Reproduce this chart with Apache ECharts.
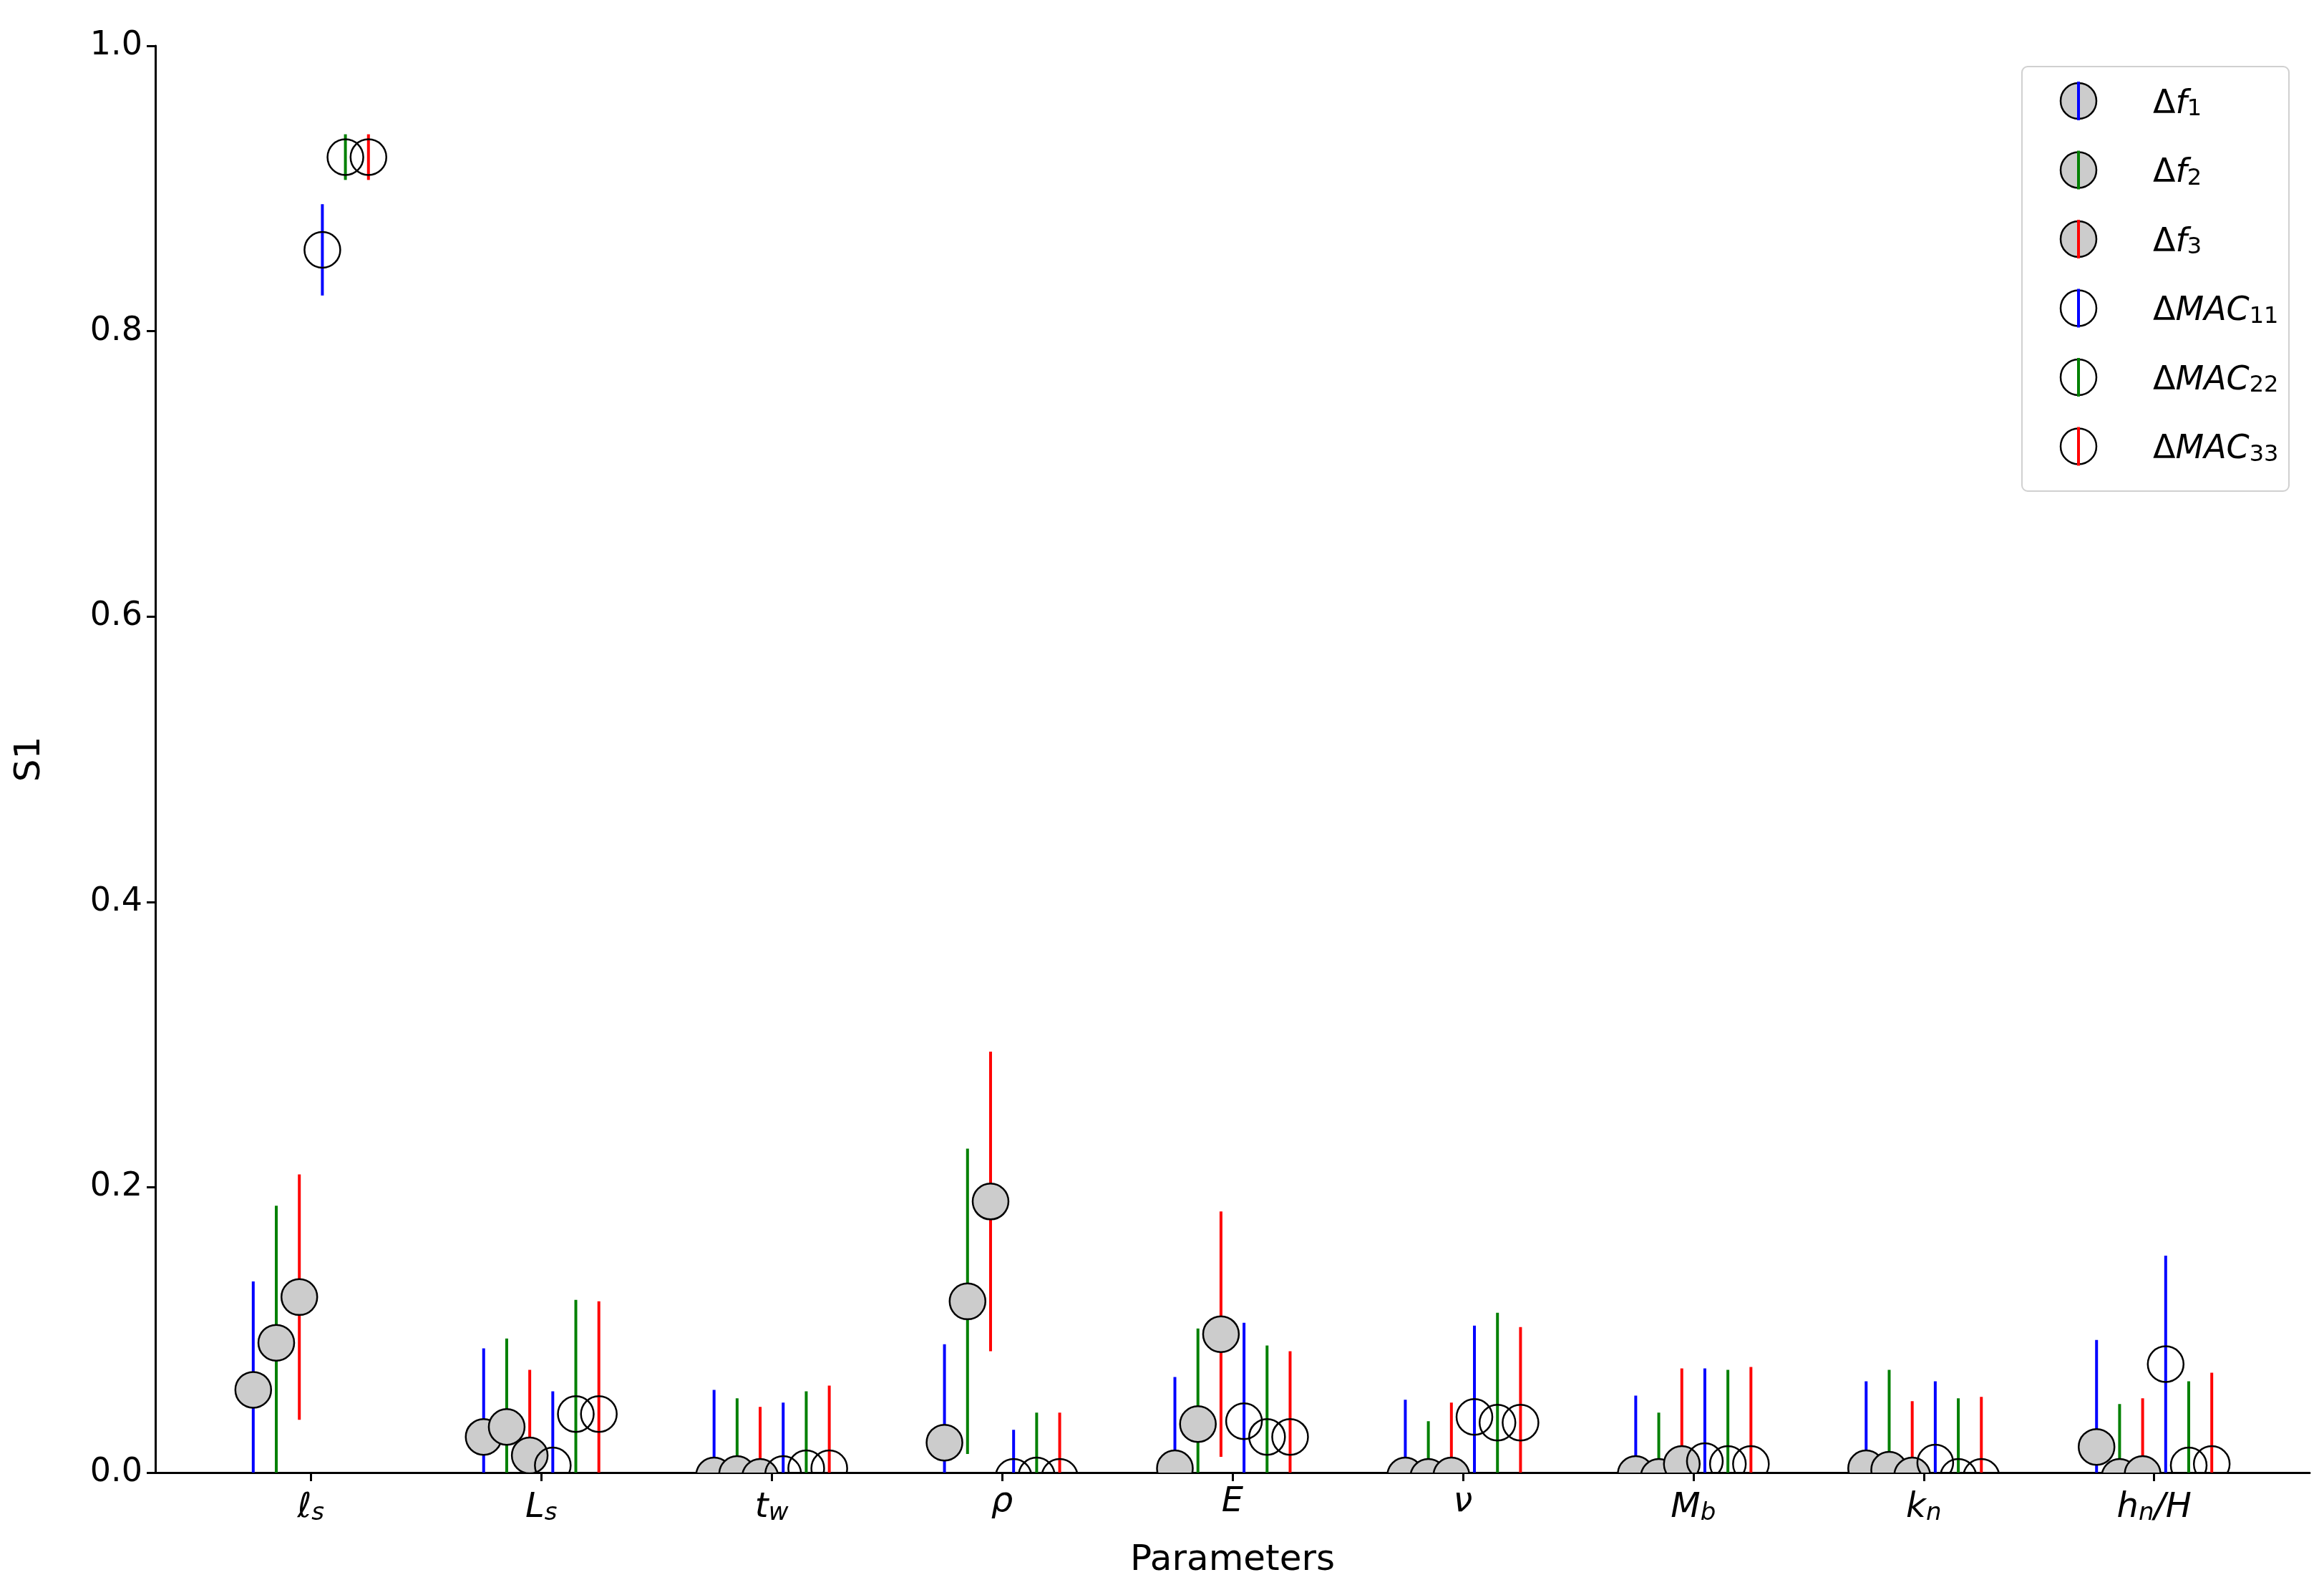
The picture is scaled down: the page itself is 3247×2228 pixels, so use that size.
<!DOCTYPE html>
<html>
<head>
<meta charset="UTF-8">
<title>S1</title>
<style>html,body{margin:0;background:#fff}#chart{width:3247px;height:2228px}</style>
</head>
<body>
<div id="chart"></div>
<script src="https://cdn.jsdelivr.net/npm/echarts/dist/echarts.min.js"></script>
<script>
// parameter labels (rich text)
var params = ['{i|ℓ}{s|s}', '{i|L}{s|s}', '{i|t}{s|w}', '{i|ρ}', '{i|E}', '{i|ν}', '{i|M}{s|b}', '{i|k}{s|n}', '{i|h}{s|n}{i|/H}'];
var names = ['f1', 'f2', 'f3', 'MAC11', 'MAC22', 'MAC33'];
var colors = ['#0000ff', '#008000', '#ff0000', '#0000ff', '#008000', '#ff0000'];
var offsets = [-0.25, -0.15, -0.05, 0.05, 0.15, 0.25];

// S1 estimates per series (one value per parameter)
var s1_f1    = [0.058, 0.025, -0.002, 0.021, 0.003, -0.002, -0.001, 0.003, 0.018];
var s1_f2    = [0.091, 0.032, -0.001, 0.120, 0.034, -0.003, -0.003, 0.002, -0.003];
var s1_f3    = [0.123, 0.012, -0.003, 0.190, 0.097, -0.002, 0.006, -0.002, -0.001];
var s1_mac11 = [0.857, 0.005, -0.001, -0.003, 0.036, 0.039, 0.008, 0.007, 0.076];
var s1_mac22 = [0.922, 0.041, 0.003, -0.002, 0.025, 0.035, 0.006, -0.003, 0.005];
var s1_mac33 = [0.922, 0.041, 0.003, -0.003, 0.025, 0.035, 0.006, -0.003, 0.006];
// upper end of confidence bars
var up_f1    = [0.134, 0.087, 0.058, 0.090, 0.067, 0.051, 0.054, 0.064, 0.093];
var up_f2    = [0.187, 0.094, 0.052, 0.227, 0.101, 0.036, 0.042, 0.072, 0.048];
var up_f3    = [0.209, 0.072, 0.046, 0.295, 0.183, 0.049, 0.073, 0.050, 0.052];
var up_mac11 = [0.889, 0.057, 0.049, 0.030, 0.105, 0.103, 0.073, 0.064, 0.152];
var up_mac22 = [0.938, 0.121, 0.057, 0.042, 0.089, 0.112, 0.072, 0.052, 0.064];
var up_mac33 = [0.938, 0.120, 0.061, 0.042, 0.085, 0.102, 0.074, 0.053, 0.070];

var values = [s1_f1, s1_f2, s1_f3, s1_mac11, s1_mac22, s1_mac33];
var uppers = [up_f1, up_f2, up_f3, up_mac11, up_mac22, up_mac33];

var chart = echarts.init(document.getElementById('chart'));
var series = [];
values.forEach(function (vals, s) {
    var errData = vals.map(function (v, i) {
        var hi = uppers[s][i];
        return [i + offsets[s], 2 * v - hi, hi];
    });
    series.push({
        type: 'custom', name: names[s] + '_err', clip: true, z: 2,
        data: errData,
        renderItem: function (params, api) {
            var a = api.coord([api.value(0), api.value(1)]);
            var b = api.coord([api.value(0), api.value(2)]);
            return {type: 'line', shape: {x1: a[0], y1: a[1], x2: b[0], y2: b[1]},
                    style: {stroke: colors[s], lineWidth: 4}};
        }
    });
    // markers as custom circles so they are clipped (half shown) at y = 0
    series.push({
        type: 'custom', name: names[s], clip: true, z: 3,
        data: vals.map(function (v, i) { return [i + offsets[s], v]; }),
        renderItem: function (params, api) {
            var p = api.coord([api.value(0), api.value(1)]);
            return {type: 'circle', shape: {cx: p[0], cy: p[1], r: 25},
                    style: {fill: s < 3 ? '#cccccc' : 'none', stroke: '#000', lineWidth: 2.5}};
        }
    });
});

// legend drawn by hand (circle with coloured line inside)
var legendText = ['{d|Δ}{i|f}{s|1}', '{d|Δ}{i|f}{s|2}', '{d|Δ}{i|f}{s|3}', '{d|Δ}{i|MAC}{s|11}', '{d|Δ}{i|MAC}{s|22}', '{d|Δ}{i|MAC}{s|33}'];
var graphic = [{type: 'rect', shape: {x: 2825, y: 93, width: 373, height: 593, r: 8},
    style: {fill: '#fff', stroke: '#d0d0d0', lineWidth: 2}, z: 10}];
legendText.forEach(function (t, k) {
    var cy = 141 + k * 96.5;
    graphic.push({type: 'circle', shape: {cx: 2904, cy: cy, r: 25},
        style: {fill: k < 3 ? '#cccccc' : 'none', stroke: '#000', lineWidth: 2.5}, z: 11});
    graphic.push({type: 'line', shape: {x1: 2904, y1: cy - 27, x2: 2904, y2: cy + 27},
        style: {stroke: colors[k], lineWidth: 4}, z: 12});
    graphic.push({type: 'text', x: 3008, y: cy, z: 12, style: {
        text: legendText[k], verticalAlign: 'middle',
        rich: {d: {fontSize: 46, fontFamily: 'DejaVu Sans', verticalAlign: 'bottom'},
               i: {fontSize: 46, fontStyle: 'italic', fontFamily: 'DejaVu Sans', verticalAlign: 'bottom'},
               s: {fontSize: 32, fontFamily: 'DejaVu Sans', verticalAlign: 'bottom', padding: [24, 0, 0, 0]}}
    }});
});

var ticks = [0, 1, 2, 3, 4, 5, 6, 7, 8];
chart.setOption({
    animation: false,
    backgroundColor: '#fff',
    grid: {left: 217, right: 20, top: 64, bottom: 171},
    xAxis: {
        type: 'value', min: -0.675, max: 8.675,
        name: 'Parameters', nameLocation: 'middle', nameGap: 98,
        nameTextStyle: {fontSize: 50, fontFamily: 'DejaVu Sans', color: '#000'},
        splitLine: {show: false},
        axisLine: {onZero: false, lineStyle: {color: '#000', width: 3}},
        axisTick: {customValues: ticks, length: 12, lineStyle: {color: '#000', width: 3}},
        axisLabel: {
            customValues: ticks, margin: 18, color: '#000',
            formatter: function (v) { return params[Math.round(v)]; },
            rich: {i: {fontSize: 48, fontStyle: 'italic', fontFamily: 'DejaVu Sans', color: '#000', verticalAlign: 'bottom'},
                   s: {fontSize: 34, fontStyle: 'italic', fontFamily: 'DejaVu Sans', color: '#000', verticalAlign: 'bottom', padding: [22, 0, 0, 0]}}
        }
    },
    yAxis: {
        type: 'value', min: 0, max: 1, interval: 0.2,
        name: 'S1', nameLocation: 'middle', nameGap: 150,
        nameTextStyle: {fontSize: 50, fontFamily: 'DejaVu Sans', color: '#000'},
        splitLine: {show: false},
        axisLine: {show: true, onZero: false, lineStyle: {color: '#000', width: 3}},
        axisTick: {show: true, length: 12, lineStyle: {color: '#000', width: 3}},
        axisLabel: {fontSize: 46, fontFamily: 'DejaVu Sans', color: '#000', margin: 18,
            formatter: function (v) { return v.toFixed(1); }}
    },
    graphic: graphic,
    series: series
});
</script>
</body>
</html>
